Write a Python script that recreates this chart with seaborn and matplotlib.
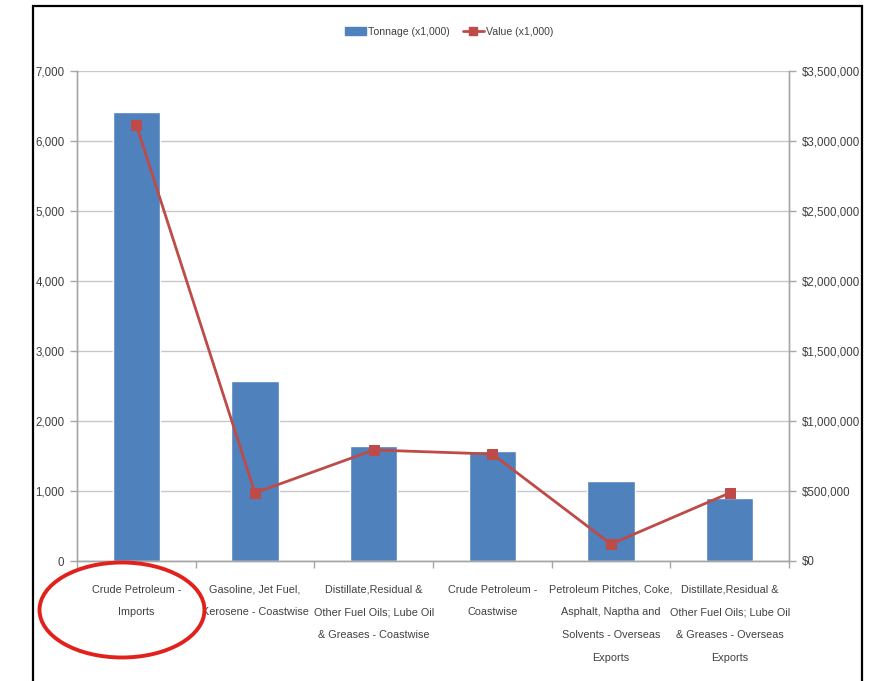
import numpy as np
import pandas as pd
import matplotlib
matplotlib.use("Agg")
import matplotlib.pyplot as plt
import seaborn as sns
from matplotlib.patches import Rectangle, Ellipse, Patch
from matplotlib.lines import Line2D
from matplotlib.ticker import FuncFormatter, MultipleLocator, FixedLocator

categories = [
    "Crude Petroleum -\nImports",
    "Gasoline, Jet Fuel,\nKerosene - Coastwise",
    "Distillate,Residual &\nOther Fuel Oils; Lube Oil\n& Greases - Coastwise",
    "Crude Petroleum -\nCoastwise",
    "Petroleum Pitches, Coke,\nAsphalt, Naptha and\nSolvents - Overseas\nExports",
    "Distillate,Residual &\nOther Fuel Oils; Lube Oil\n& Greases - Overseas\nExports",
]
tonnage = [6410, 2570, 1640, 1570, 1140, 900]
value = [3114000, 486000, 793000, 764000, 121000, 486000]
series_names = ["Tonnage (x1,000)", "Value (x1,000)"]

sns.set_theme(style="white")
plt.rcParams['font.family'] = ['Liberation Sans', 'DejaVu Sans']

BAR = "#4F81BD"
LINE = "#BE4B48"
GRID = "#C8C8C8"
AXC = "#A6A6A6"
TXT = "#404040"

fig = plt.figure(figsize=(8.69, 6.81), dpi=100)
ax = fig.add_axes([77/869, 1-561/681, (789-77)/869, (561-71)/681])

df = pd.DataFrame({"cat": categories, "tonnage": tonnage, "value": value})
sns.barplot(data=df, x="cat", y="tonnage", color=BAR, width=0.4, saturation=1, ax=ax, zorder=2)

ax.set_ylim(0, 7000)
ax.set_xlim(-0.5, len(categories) - 0.5)
ax.yaxis.set_major_locator(MultipleLocator(1000))
ax.yaxis.set_major_formatter(FuncFormatter(lambda v, p: f"{int(v):,}"))
ax.grid(axis="y", color=GRID, linewidth=1, zorder=0)
ax.set_axisbelow(True)
ax.set_xlabel("")
ax.set_ylabel("")
ax.set_xticks(np.arange(len(categories)))
ax.set_xticklabels(categories, linespacing=2.6, fontsize=7.8, color=TXT, ha="center")

ax2 = ax.twinx()
ax2.set_position(ax.get_position())
sns.lineplot(x=np.arange(len(categories)), y=value, ax=ax2, color=LINE, linewidth=2,
             marker="s", markersize=7.5, markeredgecolor=LINE, zorder=3)
ax2.set_ylim(0, 3500000)
ax2.yaxis.set_major_locator(MultipleLocator(500000))
ax2.yaxis.set_major_formatter(FuncFormatter(lambda v, p: f"${int(v):,}"))
ax2.set_xlim(-0.5, len(categories) - 0.5)
ax2.grid(False)
ax2.set_ylabel("")

for a in (ax, ax2):
    for s in a.spines.values():
        s.set_color(AXC)
        s.set_linewidth(1)
    a.spines["top"].set_visible(False)

ax.tick_params(axis="y", which="major", left=True, length=5, width=1, color=AXC,
               labelsize=8.3, labelcolor=TXT, pad=4)
ax2.tick_params(axis="y", which="major", right=True, length=5, width=1, color=AXC,
                labelsize=8.3, labelcolor=TXT, pad=4)
ax.tick_params(axis="x", which="major", length=0, pad=17)
ax.xaxis.set_minor_locator(FixedLocator(np.arange(-0.5, len(categories), 1.0)))
ax.tick_params(axis="x", which="minor", bottom=True, length=5, width=1, color=AXC)
ax2.tick_params(axis="x", bottom=False, labelbottom=False)

handles = [Patch(facecolor=BAR, edgecolor=BAR),
           Line2D([0], [0], color=LINE, lw=2, marker="s", markersize=6)]
fig.legend(handles, series_names, loc="center", bbox_to_anchor=(449/869, 1-32/681),
           ncol=2, frameon=False, fontsize=7.6, handlelength=2.0, handleheight=0.8,
           columnspacing=1.2, handletextpad=0.2, labelcolor=TXT)

# outer frame
fig.patches.append(Rectangle((33/869, -0.05), (862-33)/869, 1.05 - 6/681,
                             transform=fig.transFigure, fill=False, edgecolor="black",
                             linewidth=1.6, zorder=10))
# red highlight ellipse
fig.patches.append(Ellipse((122/869, 1-610/681), 165/869, 95/681,
                           transform=fig.transFigure, fill=False, edgecolor="#E3211C",
                           linewidth=2.8, zorder=11))

fig.savefig("out.png", dpi=100)
